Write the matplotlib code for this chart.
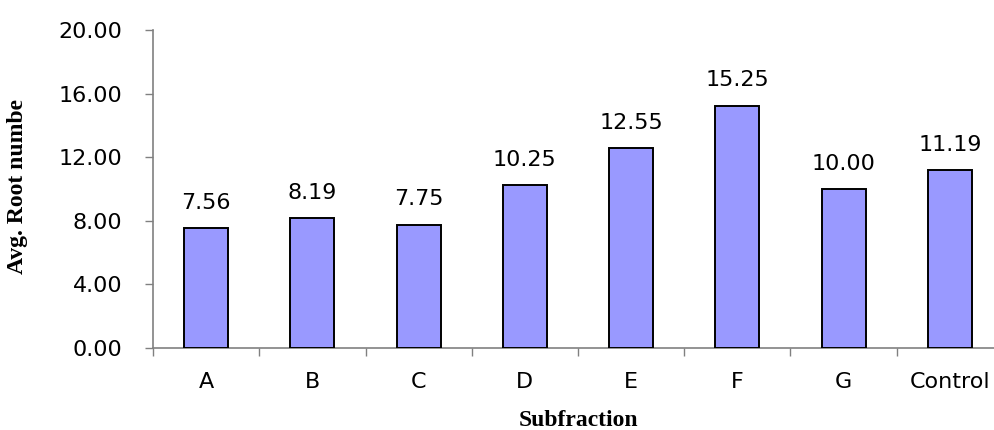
import matplotlib
matplotlib.use("Agg")
import matplotlib.pyplot as plt
import numpy as np
from matplotlib.ticker import FixedLocator, FormatStrFormatter

categories = ["A", "B", "C", "D", "E", "F", "G", "Control"]
root_number = [7.56, 8.19, 7.75, 10.25, 12.55, 15.25, 10.00, 11.19]
y_ticks = [0, 4, 8, 12, 16, 20]

W, H = 995, 430
fig = plt.figure(figsize=(W / 100, H / 100), dpi=100)
left, right, top, bottom = 153, 1003, 30, 348
ax = fig.add_axes([left / W, 1 - bottom / H, (right - left) / W, (bottom - top) / H])

sans = "DejaVu Sans"
serif = "Liberation Serif"

x = np.arange(len(categories))
ax.bar(x, root_number, width=0.415, color="#9999FF", edgecolor="black", linewidth=1.4, zorder=3)

for xi, v in zip(x, root_number):
    ax.annotate(f"{v:.2f}", (xi, v), xytext=(0, 11), textcoords="offset points",
                ha="center", va="bottom", fontsize=16, family=sans)

ax.set_xlim(-0.5, len(categories) - 0.5)
ax.set_ylim(0, 20)

ax.set_yticks(y_ticks)
ax.yaxis.set_major_formatter(FormatStrFormatter("%.2f"))
ax.tick_params(axis="y", direction="out", length=6, width=1, color="#808080", pad=16,
               labelsize=16)

ax.set_xticks(x)
ax.set_xticklabels(categories)
ax.xaxis.set_minor_locator(FixedLocator(np.arange(len(categories)) - 0.5))
ax.tick_params(axis="x", which="major", length=0, pad=17, labelsize=16)
ax.tick_params(axis="x", which="minor", direction="out", length=6, width=1, color="#808080")

for lab in ax.get_xticklabels() + ax.get_yticklabels():
    lab.set_family(sans)

for s in ["top", "right"]:
    ax.spines[s].set_visible(False)
for s in ["left", "bottom"]:
    ax.spines[s].set_color("#808080")
    ax.spines[s].set_linewidth(1.2)

fig.text(578 / W, 1 - 420 / H, "Subfraction", ha="center", va="center",
         family=serif, fontweight="bold", fontsize=17)
fig.text(18 / W, 1 - 187 / H, "Avg. Root numbe", ha="center", va="center", rotation=90,
         family=serif, fontweight="bold", fontsize=17)

fig.savefig("out.png", dpi=100)
